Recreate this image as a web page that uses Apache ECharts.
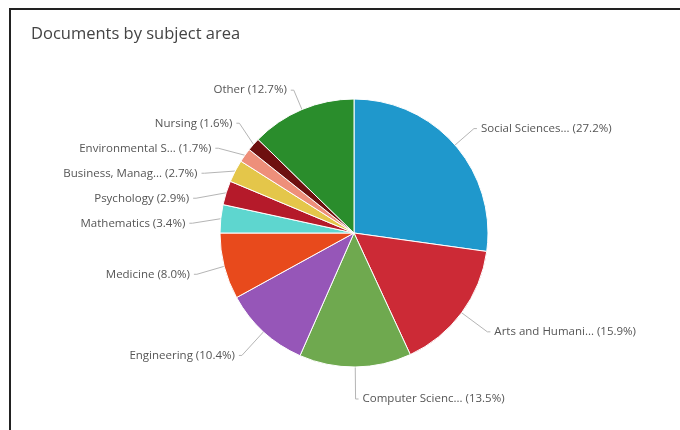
<!DOCTYPE html>
<html>
<head>
<meta charset="utf-8">
<script src="https://cdn.jsdelivr.net/npm/echarts@6/dist/echarts.min.js"></script>
<style>
  html, body { margin: 0; padding: 0; background: #fff; }
  #chart { width: 680px; height: 430px; }
</style>
</head>
<body>
<div id="chart"></div>
<script>
// Subject areas (clockwise from 12 o'clock) and their share of documents, in percent
const subjects = [
  'Social Sciences...', 'Arts and Humani...', 'Computer Scienc...', 'Engineering',
  'Medicine', 'Mathematics', 'Psychology', 'Business, Manag...',
  'Environmental S...', 'Nursing', 'Other'
];
const shares = [27.2, 15.9, 13.5, 10.4, 8.0, 3.4, 2.9, 2.7, 1.7, 1.6, 12.7];
const sliceColors = [
  '#1f98cc', '#cc2a36', '#6fa94f', '#9656b8', '#e84a1c', '#5ed6cf',
  '#b51a2a', '#e4c64a', '#ee8f7a', '#6e1010', '#2a8d2c'
];

// The two slices whose labels sit near the top get shorter leader lines
const shortLeader = { 'Social Sciences...': 25, 'Other': 21 };

const chart = echarts.init(document.getElementById('chart'), null, { renderer: 'canvas' });

chart.setOption({
  animation: false,
  backgroundColor: '#fff',
  graphic: [{
    type: 'rect',
    shape: { x: 10, y: 9, width: 700, height: 460 },
    style: { fill: 'none', stroke: '#222', lineWidth: 2 },
    silent: true
  }],
  title: {
    text: 'Documents by subject area',
    left: 26, top: 21,
    textStyle: { fontFamily: 'Open Sans', fontSize: 16.5, fontWeight: 'normal', color: '#444' }
  },
  series: [{
    type: 'pie',
    center: [354, 233],
    radius: 134,
    startAngle: 90,
    clockwise: true,
    data: subjects.map((name, i) => {
      const item = { name, value: shares[i], itemStyle: { color: sliceColors[i] } };
      if (shortLeader[name]) item.labelLine = { length: shortLeader[name] };
      return item;
    }),
    itemStyle: { borderColor: '#fff', borderWidth: 1 },
    label: {
      formatter: p => p.name + ' (' + p.value.toFixed(1) + '%)',
      fontFamily: 'Open Sans',
      fontSize: 11.5,
      lineHeight: 23,
      color: '#555',
      distanceToLabelLine: 4
    },
    labelLine: {
      length: 32,
      length2: 3,
      lineStyle: { color: '#b5b5b5', width: 1 }
    }
  }]
});
</script>
</body>
</html>
